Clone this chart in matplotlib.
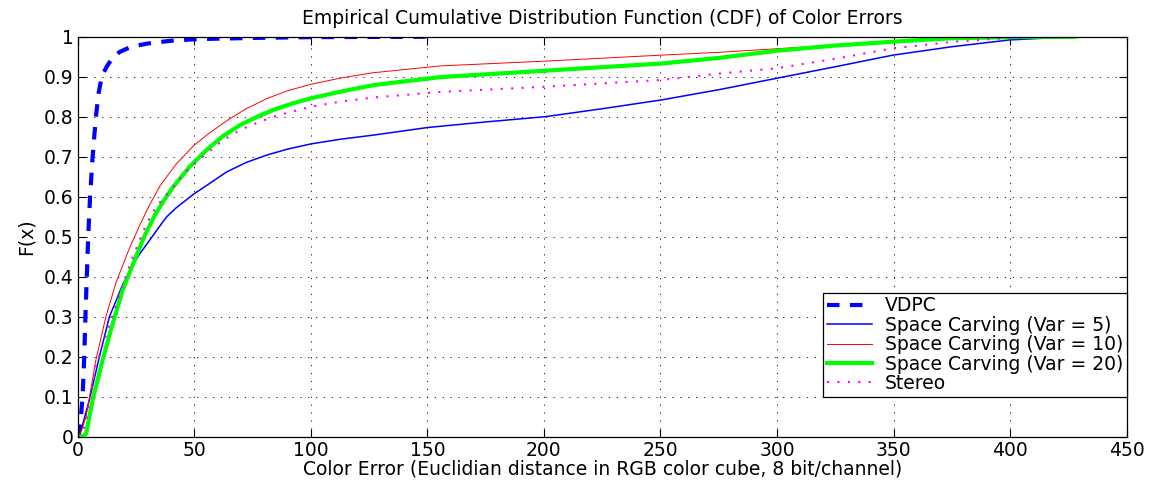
import numpy as np
import matplotlib.pyplot as plt

plt.rcParams['font.family'] = ['DejaVu Sans']

# CDF curves of colour error (x = error, y = F(x))
vdpc_x = [0, 1, 2.1, 2.8, 3.3, 3.9, 4.5, 5.3, 6.4, 7.8, 9, 10.3, 12.4, 15, 18, 23, 30, 40, 51, 75, 100, 151]
vdpc_y = [0, 0.025, 0.1, 0.2, 0.3, 0.4, 0.5, 0.6, 0.7, 0.8, 0.86, 0.9, 0.925, 0.948, 0.962, 0.975,
          0.983, 0.99, 0.994, 0.997, 0.999, 1.0]

sc5_x = [0, 0.7, 5, 9.3, 13.6, 19.3, 23.6, 26.7, 30.7, 35, 38.2, 42.2, 49.6, 55, 63.9, 72, 81, 90, 100,
         113, 126.8, 150, 175, 200.4, 225, 250.4, 275.4, 299.7, 325, 349.7, 375, 399.8, 420, 436]
sc5_y = [0, 0.0, 0.092, 0.2, 0.3, 0.38, 0.43, 0.458, 0.49, 0.525, 0.55, 0.572, 0.606, 0.627, 0.662,
         0.685, 0.704, 0.719, 0.732, 0.744, 0.754, 0.773, 0.787, 0.80, 0.82, 0.842, 0.868, 0.896,
         0.925, 0.954, 0.975, 0.992, 0.998, 1.0]

sc10_x = [0, 1.7, 3.6, 7.8, 12.1, 16.4, 22.1, 26.7, 30.7, 35.3, 42, 49.6, 56, 63.9, 72, 81, 90, 100,
          113, 126.8, 155.4, 200.4, 250.4, 275, 300, 325, 350, 375, 400, 425]
sc10_y = [0, 0.017, 0.05, 0.192, 0.3, 0.385, 0.47, 0.53, 0.578, 0.627, 0.68, 0.727, 0.757, 0.79,
          0.819, 0.845, 0.865, 0.881, 0.897, 0.910, 0.927, 0.939, 0.954, 0.961, 0.97, 0.979, 0.988,
          0.996, 0.999, 1.0]

sc20_x = [0, 1, 2.8, 3.6, 6.4, 10.7, 15, 19.3, 25, 28.5, 33, 37.1, 41, 48, 55.3, 62, 69.6, 77, 83.9,
          92, 100, 113, 126.8, 155.4, 200.4, 250.4, 275, 300, 325, 349.7, 374, 400, 428]
sc20_y = [0, 0, 0.003, 0.008, 0.092, 0.192, 0.283, 0.367, 0.45, 0.5, 0.553, 0.592, 0.625, 0.675, 0.717,
          0.75, 0.779, 0.80, 0.817, 0.833, 0.846, 0.863, 0.879, 0.899, 0.915, 0.933, 0.947, 0.965,
          0.978, 0.9875, 0.996, 0.999, 1.0]

stereo_x = [0, 2, 3.6, 7.8, 13.6, 19.3, 24, 29.3, 33.6, 41, 48, 55.3, 62, 69.6, 77, 83.9, 92, 100,
            113, 126.8, 155.4, 200.4, 250.4, 275.4, 299.7, 325, 349.7, 375.5, 399.8, 431]
stereo_y = [0, 0.01, 0.04, 0.175, 0.28, 0.38, 0.455, 0.53, 0.575, 0.625, 0.672, 0.708, 0.74, 0.767,
            0.785, 0.80, 0.813, 0.825, 0.838, 0.848, 0.862, 0.875, 0.892, 0.908, 0.921, 0.945, 0.971,
            0.9875, 0.997, 1.0]

fig = plt.figure(figsize=(11.53, 4.84), dpi=100)
ax = fig.add_axes([0.0674, 0.0977, 0.9098, 0.8264])

ax.plot(vdpc_x, vdpc_y, color='#0000ff', lw=3, dashes=(3, 2.5), label='VDPC')
ax.plot(sc5_x, sc5_y, color='#0000ff', lw=1.1, label='Space Carving (Var = 5)')
ax.plot(sc10_x, sc10_y, color='#ff0000', lw=0.7, label='Space Carving (Var = 10)')
ax.plot(sc20_x, sc20_y, color='#00ff00', lw=3, label='Space Carving (Var = 20)')
ax.plot(stereo_x, stereo_y, color='#ff00ff', lw=1.5, dashes=(1, 4), label='Stereo')

ax.set_xlim(0, 450)
ax.set_ylim(0, 1)
ax.set_xticks(np.arange(0, 451, 50))
ax.set_yticks(np.arange(0, 1.01, 0.1))
ax.set_yticklabels(['0', '0.1', '0.2', '0.3', '0.4', '0.5', '0.6', '0.7', '0.8', '0.9', '1'])
ax.tick_params(direction='in', length=6, width=0.8, top=True, right=True, labelsize=13.5, pad=3)
ax.grid(True, color='black', lw=0.6, linestyle=(0, (1.5, 8)))
for s in ax.spines.values():
    s.set_linewidth(0.9)

ax.set_xlabel('Color Error (Euclidian distance in RGB color cube, 8 bit/channel)', fontsize=13.5, labelpad=0)
ax.set_ylabel('F(x)', fontsize=13.5, labelpad=6)
ax.set_title('Empirical Cumulative Distribution Function (CDF) of Color Errors', fontsize=13.5, pad=9)

leg = ax.legend(loc='lower right', bbox_to_anchor=(1.0, 0.1), fontsize=13.5, frameon=True,
                fancybox=False, edgecolor='black', framealpha=1, handlelength=2.4,
                borderpad=0.2, labelspacing=0.02, handletextpad=0.7, borderaxespad=0)
leg.get_frame().set_linewidth(0.9)

plt.savefig('out.png', dpi=100)
